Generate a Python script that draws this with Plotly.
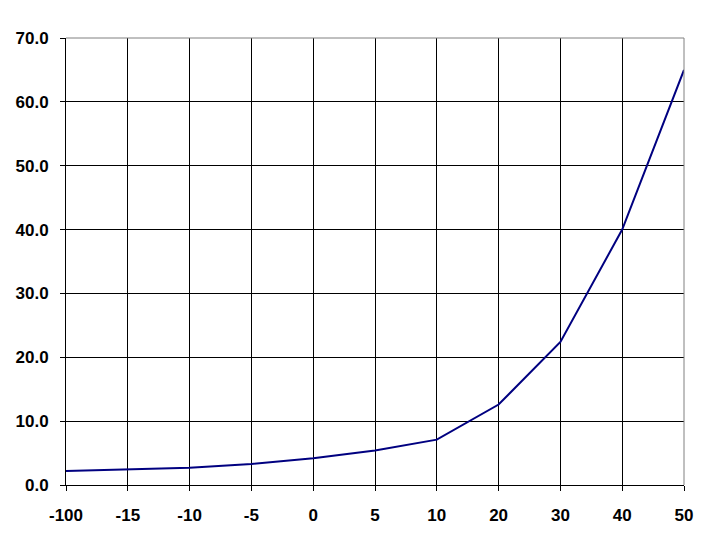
import plotly.graph_objects as go

# category labels along the x axis
categories = ["-100", "-15", "-10", "-5", "0", "5", "10", "20", "30", "40", "50"]
# values
values = [2.2, 2.4, 2.7, 3.3, 4.2, 5.4, 7.1, 12.6, 22.4, 40.0, 65.0]

y_ticks = [0, 10, 20, 30, 40, 50, 60, 70]

tick_font = dict(size=17, family="Liberation Sans, Arial", weight="bold", color="black")

fig = go.Figure()
fig.add_trace(go.Scatter(x=categories, y=values, mode="lines",
                         line=dict(color="#000080", width=2)))

# page body adds an 8px offset, so size/margins are trimmed to compensate
fig.update_layout(
    width=712, height=532,
    margin=dict(l=58, r=36, t=30, b=55),
    paper_bgcolor="white", plot_bgcolor="white",
    showlegend=False,
)
fig.update_xaxes(type="category", range=[0, len(categories) - 1], automargin=False,
                 showgrid=True, gridcolor="black", gridwidth=1,
                 showline=True, linecolor="black", linewidth=1,
                 ticks="outside", ticklen=5, tickcolor="black",
                 ticklabelstandoff=10, tickfont=tick_font)
fig.update_yaxes(range=[0, 70], tickvals=y_ticks, automargin=False,
                 ticktext=[f"{v:.1f}" for v in y_ticks],
                 showgrid=True, gridcolor="black", gridwidth=1, zeroline=False,
                 showline=True, linecolor="black", linewidth=1,
                 ticks="outside", ticklen=5, tickcolor="black",
                 ticklabelstandoff=8, tickfont=tick_font)

# gray frame on top and right like the original
fig.add_shape(type="line", xref="paper", yref="paper", x0=0, x1=1, y0=1, y1=1,
              line=dict(color="gray", width=1))
fig.add_shape(type="line", xref="paper", yref="paper", x0=1, x1=1, y0=0, y1=1,
              line=dict(color="gray", width=1))

fig.write_html("out.html")
